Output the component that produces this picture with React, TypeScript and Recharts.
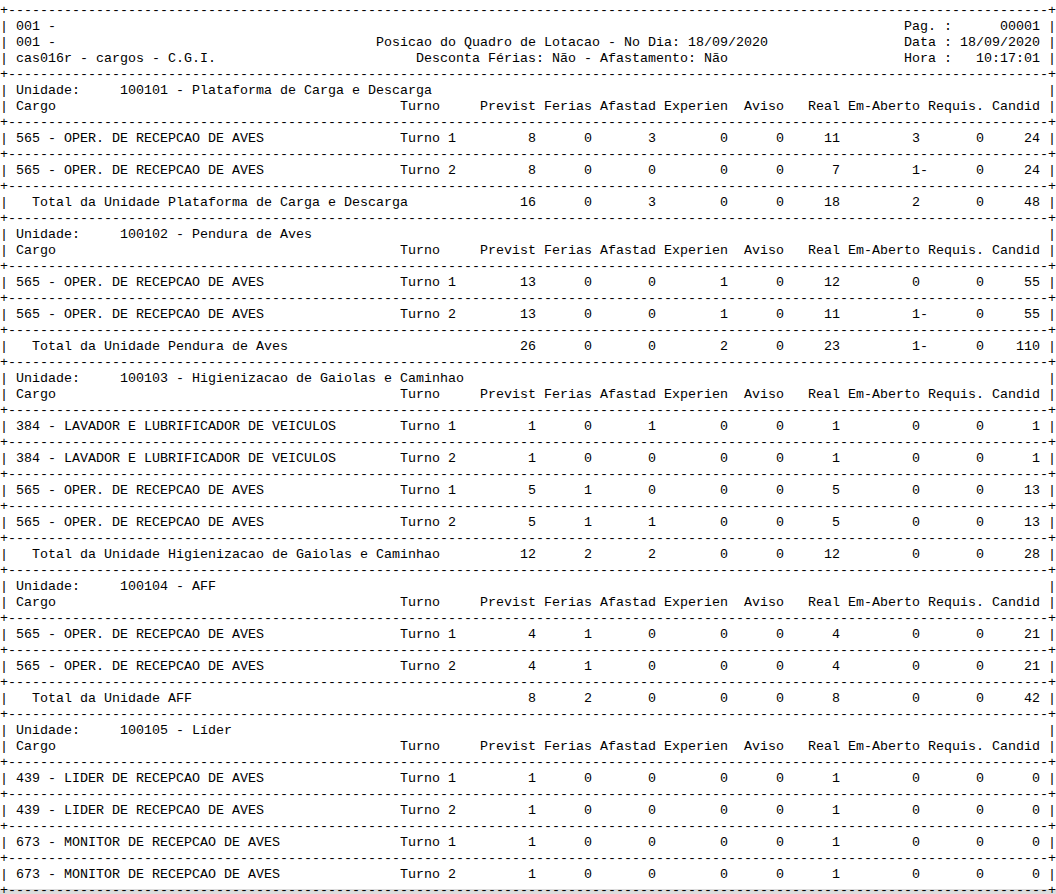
import { Surface, Layer, Rectangle } from 'recharts';

// report page: 132 columns x 56 lines, fixed pitch
const COLS = 132;
const CHAR_W = 8;
const LINE_H = 16;
const FIRST_BASELINE = 14;

const reportCode = '001 -';
const programInfo = 'cas016r - cargos - C.G.I.';
const title = 'Posicao do Quadro de Lotacao - No Dia: 18/09/2020';
const subtitle = 'Desconta Férias: Não - Afastamento: Não';
const pageInfo = ['Pag. :      00001', 'Data : 18/09/2020', 'Hora :   10:17:01'];

const columnLabels = ['Previst', 'Ferias', 'Afastad', 'Experien', 'Aviso', 'Real', 'Em-Aberto', 'Requis.', 'Candid'];
// last column (0-based) of each right-aligned value
const columnEnds = [66, 73, 81, 90, 97, 104, 114, 122, 129];

const unitCodes = ['100101', '100102', '100103', '100104', '100105'];
const unitNames = ['Plataforma de Carga e Descarga', 'Pendura de Aves', 'Higienizacao de Gaiolas e Caminhao', 'AFF', 'Líder'];

const cargoOper = '565 - OPER. DE RECEPCAO DE AVES';
const cargoLavador = '384 - LAVADOR E LUBRIFICADOR DE VEICULOS';
const cargoLider = '439 - LIDER DE RECEPCAO DE AVES';
const cargoMonitor = '673 - MONITOR DE RECEPCAO DE AVES';

type Row = { cargo: string; turno: string; values: number[] };

const rowsPlataforma: Row[] = [
  { cargo: cargoOper, turno: 'Turno 1', values: [8, 0, 3, 0, 0, 11, 3, 0, 24] },
  { cargo: cargoOper, turno: 'Turno 2', values: [8, 0, 0, 0, 0, 7, -1, 0, 24] },
];
const totalPlataforma = [16, 0, 3, 0, 0, 18, 2, 0, 48];

const rowsPendura: Row[] = [
  { cargo: cargoOper, turno: 'Turno 1', values: [13, 0, 0, 1, 0, 12, 0, 0, 55] },
  { cargo: cargoOper, turno: 'Turno 2', values: [13, 0, 0, 1, 0, 11, -1, 0, 55] },
];
const totalPendura = [26, 0, 0, 2, 0, 23, -1, 0, 110];

const rowsHigienizacao: Row[] = [
  { cargo: cargoLavador, turno: 'Turno 1', values: [1, 0, 1, 0, 0, 1, 0, 0, 1] },
  { cargo: cargoLavador, turno: 'Turno 2', values: [1, 0, 0, 0, 0, 1, 0, 0, 1] },
  { cargo: cargoOper, turno: 'Turno 1', values: [5, 1, 0, 0, 0, 5, 0, 0, 13] },
  { cargo: cargoOper, turno: 'Turno 2', values: [5, 1, 1, 0, 0, 5, 0, 0, 13] },
];
const totalHigienizacao = [12, 2, 2, 0, 0, 12, 0, 0, 28];

const rowsAff: Row[] = [
  { cargo: cargoOper, turno: 'Turno 1', values: [4, 1, 0, 0, 0, 4, 0, 0, 21] },
  { cargo: cargoOper, turno: 'Turno 2', values: [4, 1, 0, 0, 0, 4, 0, 0, 21] },
];
const totalAff = [8, 2, 0, 0, 0, 8, 0, 0, 42];

const rowsLider: Row[] = [
  { cargo: cargoLider, turno: 'Turno 1', values: [1, 0, 0, 0, 0, 1, 0, 0, 0] },
  { cargo: cargoLider, turno: 'Turno 2', values: [1, 0, 0, 0, 0, 1, 0, 0, 0] },
  { cargo: cargoMonitor, turno: 'Turno 1', values: [1, 0, 0, 0, 0, 1, 0, 0, 0] },
  { cargo: cargoMonitor, turno: 'Turno 2', values: [1, 0, 0, 0, 0, 1, 0, 0, 0] },
];

const unitRows = [rowsPlataforma, rowsPendura, rowsHigienizacao, rowsAff, rowsLider];
const unitTotals: (number[] | null)[] = [totalPlataforma, totalPendura, totalHigienizacao, totalAff, null];

function makeLine(parts: Array<[number, string]>, closed = true) {
  const chars = Array(COLS).fill(' ');
  chars[0] = '|';
  if (closed) chars[COLS - 1] = '|';
  parts.forEach(([col, s]) => {
    for (let i = 0; i < s.length; i++) chars[col + i] = s[i];
  });
  return chars.join('');
}

function valueParts(values: number[]): Array<[number, string]> {
  return values.map((v, i) => {
    const s = String(Math.abs(v)) + (v < 0 ? '-' : '');
    const start = columnEnds[i] - String(Math.abs(v)).length + 1;
    return [start, s] as [number, string];
  });
}

const dash = '+' + '-'.repeat(COLS - 2) + '+';

function buildLines() {
  const lines: string[] = [dash];
  lines.push(makeLine([[2, reportCode], [113, pageInfo[0]]]));
  lines.push(makeLine([[2, reportCode], [47, title], [113, pageInfo[1]]]));
  lines.push(makeLine([[2, programInfo], [52, subtitle], [113, pageInfo[2]]]));
  lines.push(dash);
  unitCodes.forEach((code, u) => {
    lines.push(makeLine([[2, 'Unidade:'], [15, `${code} - ${unitNames[u]}`]]));
    const head: Array<[number, string]> = [[2, 'Cargo'], [50, 'Turno']];
    columnLabels.forEach((lab, i) => head.push([columnEnds[i] - lab.length + 1, lab]));
    lines.push(makeLine(head));
    lines.push(dash);
    unitRows[u].forEach((r) => {
      lines.push(makeLine([[2, r.cargo], [50, r.turno], ...valueParts(r.values)]));
      lines.push(dash);
    });
    const tot = unitTotals[u];
    if (tot) {
      lines.push(makeLine([[4, `Total da Unidade ${unitNames[u]}`], ...valueParts(tot)]));
      lines.push(dash);
    }
  });
  return lines;
}

const WIDTH = 1056;
const HEIGHT = 894;

export default function App() {
  const lines = buildLines();
  return (
    <div style={{ position: 'absolute', left: 0, top: 0, width: WIDTH, height: HEIGHT, background: '#fff' }}>
      <Surface width={WIDTH} height={HEIGHT} viewBox={{ x: 0, y: 0, width: WIDTH, height: HEIGHT }}>
        <Rectangle x={0} y={889} width={WIDTH} height={5} fill="#dcdcdc" />
        <Layer className="report-lines">
          {lines.map((line, k) => (
            <text
              key={k}
              x={0}
              y={FIRST_BASELINE + k * LINE_H}
              fontFamily="'Courier New', 'Liberation Mono', monospace"
              fontSize={(CHAR_W / 0.6).toFixed(3)}
              fill="#000"
              textLength={COLS * CHAR_W}
              lengthAdjust="spacing"
              style={{ whiteSpace: 'pre' }}
            >
              {line}
            </text>
          ))}
        </Layer>
      </Surface>
    </div>
  );
}
